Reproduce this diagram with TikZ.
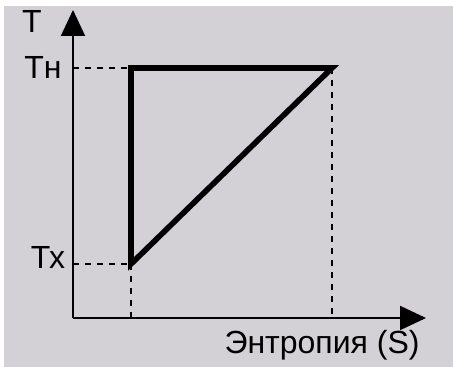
\documentclass[tikz,border=0pt]{standalone}
\usepackage{fontspec}
\setmainfont{Liberation Sans}
\usetikzlibrary{arrows.meta,positioning}
\definecolor{PanelGray}{RGB}{212,209,214}

\begin{document}
\begin{tikzpicture}[x=0.5pt, y=-0.5pt,
        axis/.style={line width=1pt, -{Triangle[length=13pt, width=12pt]}},
        guide/.style={line width=0.8pt, dash pattern=on 3pt off 3pt},
        process/.style={line width=2.8pt, line join=miter},
        lbl/.style={font=\fontsize{16}{18}\selectfont, inner sep=0pt, anchor=base}
    ]
    \useasboundingbox (0,0) rectangle (453,367);
    \fill[PanelGray] (4,6) rectangle (453,367);

    \coordinate (origin) at (73,318);
    \coordinate (ytip)   at (73,10);
    \coordinate (xtip)   at (426,318);

    \coordinate (hotL)  at (131,68);
    \coordinate (hotR)  at (332,68);
    \coordinate (cold)  at (131,264);

    \node[lbl] (tlabel)  at (32,33)   {Т};
    \node[lbl] (thlabel) at (43,79)   {Тн};
    \node[lbl] (txlabel) at (48,269)  {Тх};
    \node[lbl] (slabel)  at (322,353) {Энтропия (S)};

    % guides
    \draw[guide] (origin |- hotL) -- (hotL);
    \draw[guide] (origin |- cold) -- (cold);
    \draw[guide] (hotR) -- (hotR |- origin);
    \draw[guide] (cold) -- (cold |- origin);

    \draw[axis] (origin) -- (ytip);
    \draw[axis] (origin) -- (xtip);

    \draw[process] (hotL) -- (hotR) -- (cold) -- cycle;
\end{tikzpicture}
\end{document}
